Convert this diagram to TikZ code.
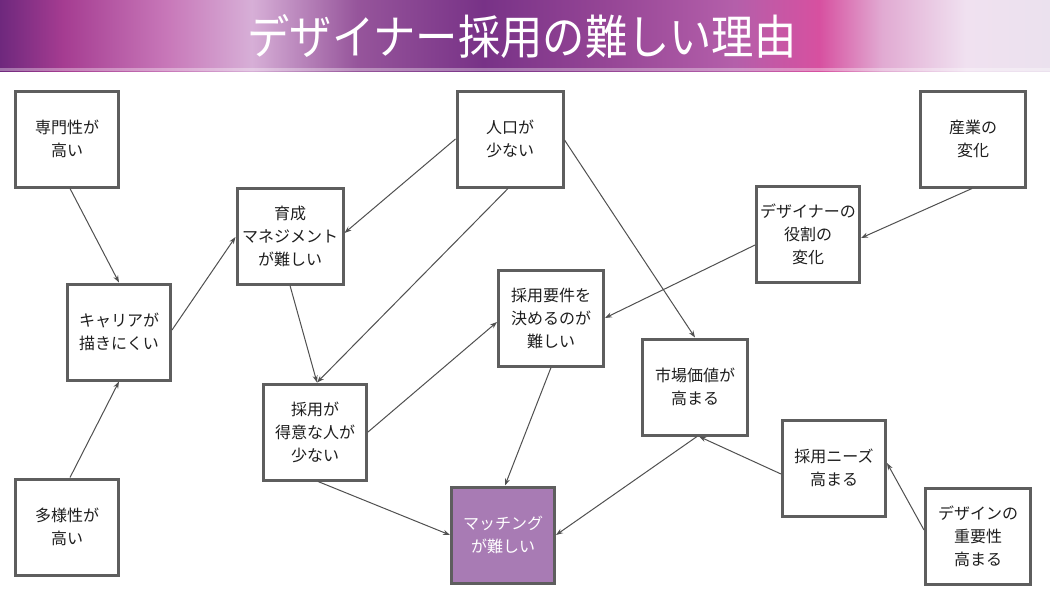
\documentclass[tikz,border=0pt]{standalone}
\usepackage{fontspec}
\setmainfont{Noto Sans CJK JP}
\usetikzlibrary{arrows.meta,calc}
\definecolor{boxgray}{HTML}{5E5E5E}
\definecolor{linegray}{HTML}{505050}
\definecolor{matfill}{HTML}{A87BB4}
\definecolor{txt}{HTML}{1E1E1E}
\pgfdeclarehorizontalshading{headshade}{100bp}{%
color(0bp)=(black!0!white);
color(25bp)=({rgb,255:red,110;green,40;blue,125});
color(28bp)=({rgb,255:red,165;green,60;blue,145});
color(33bp)=({rgb,255:red,200;green,120;blue,185});
color(37bp)=({rgb,255:red,215;green,175;blue,215});
color(42bp)=({rgb,255:red,150;green,85;blue,155});
color(48bp)=({rgb,255:red,120;green,50;blue,135});
color(54bp)=({rgb,255:red,150;green,70;blue,150});
color(60bp)=({rgb,255:red,180;green,95;blue,170});
color(64bp)=({rgb,255:red,215;green,80;blue,160});
color(67bp)=({rgb,255:red,225;green,170;blue,210});
color(71bp)=({rgb,255:red,240;green,225;blue,240});
color(75bp)=({rgb,255:red,235;green,225;blue,238});
color(100bp)=({rgb,255:red,235;green,225;blue,238})}
\tikzset{
  box/.style={draw=boxgray, line width=3pt, fill=white, minimum width=103pt,
    minimum height=96pt, align=center, font=\fontsize{16}{23}\selectfont, text=txt, inner sep=2pt},
  hot/.style={box, fill=matfill, text=white},
  arr/.style={draw=linegray, line width=1pt, -{Stealth[length=7pt,width=5pt]}},
}
\begin{document}
\begin{tikzpicture}[x=1pt,y=-1pt]
\useasboundingbox (0,0) rectangle (1050,600);
\fill[white] (0,0) rectangle (1050,600);
% header
\shade[shading=headshade] (0,0) rectangle (1050,71);
\fill[white,opacity=0.35] (0,68) rectangle (1050,71);
\node[text=white, font=\fontsize{47}{50}\selectfont] (title) at (522,36) {\scalebox{0.9}[1]{デザイナー採用の難しい理由}};
% nodes
\node[box] (sen) at (67,139) {専門性が\\高い};
\node[box] (car) at (119,332) {キャリアが\\描きにくい};
\node[box] (tayo) at (67,527) {多様性が\\高い};
\node[box, minimum width=106pt] (iku) at (290,236) {育成\\マネジメント\\が難しい};
\node[box, minimum width=106pt] (jin) at (510,139) {人口が\\少ない};
\node[box] (tok) at (315,432) {採用が\\得意な人が\\少ない};
\node[box, minimum width=105pt] (yok) at (551,318) {採用要件を\\決めるのが\\難しい};
\node[hot] (mat) at (503,535) {マッチング\\が難しい};
\node[box, minimum width=105pt] (shi) at (695,387) {市場価値が\\高まる};
\node[box] (yak) at (808,234) {デザイナーの\\役割の\\変化};
\node[box, minimum width=105pt] (san) at (973,139) {産業の\\変化};
\node[box] (niz) at (834,468) {採用ニーズ\\高まる};
\node[box, minimum width=105pt] (jyu) at (978,536) {デザインの\\重要性\\高まる};
% connectors
\draw[arr] ([xshift=3pt]sen.south) -- (car.north);
\draw[arr] ([xshift=3pt]tayo.north) -- (car.south);
\draw[arr] ([yshift=2pt]car.east) -- ([yshift=-1pt]iku.west);
\draw[arr] (jin.west) -- ([yshift=3pt]iku.east);
\draw[arr] ([xshift=-2pt]jin.south) -- ([xshift=2pt]tok.north);
\draw[arr] (iku.south) -- ([xshift=2pt]tok.north);
\draw[arr] ([yshift=-1pt]jin.east) -- (shi.north);
\draw[arr] ([yshift=-11pt]yak.west) -- (yok.east);
\draw[arr] ([xshift=-1pt]san.south) -- ([yshift=-4pt]yak.east);
\draw[arr] (tok.east) -- ([yshift=-4pt]yok.west);
\draw[arr] (yok.south) -- ([xshift=2pt]mat.north);
\draw[arr] ([xshift=3pt]tok.south) -- (mat.west);
\draw[arr] ([xshift=2pt]shi.south) -- (mat.east);
\draw[arr] ([yshift=-6pt]niz.west) -- ([xshift=4pt]shi.south);
\draw[arr] ([yshift=6pt]jyu.west) -- ([yshift=5pt]niz.east);
\end{tikzpicture}
\end{document}
